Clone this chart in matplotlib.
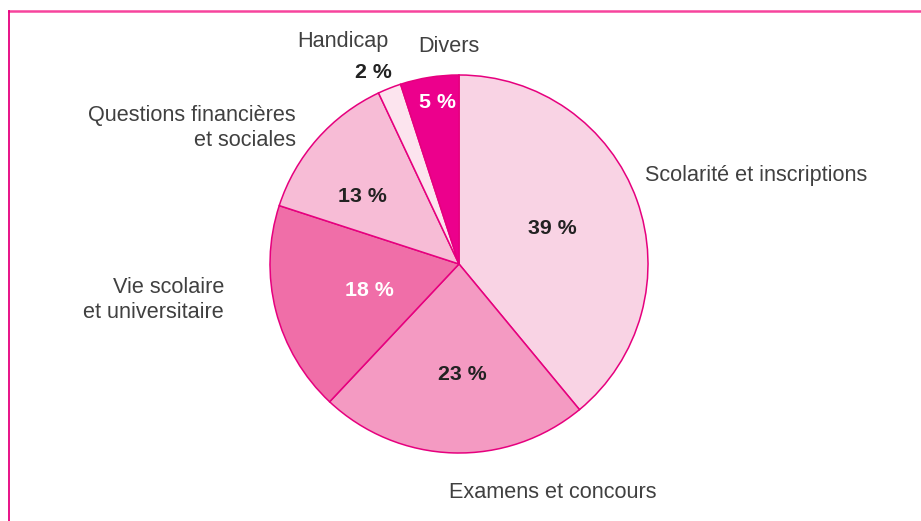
import matplotlib.pyplot as plt
from matplotlib.lines import Line2D

# Data: shares of requests, clockwise from the top
categories = ["Scolarité et inscriptions", "Examens et concours",
              "Vie scolaire\net universitaire", "Questions financières\net sociales",
              "Handicap", "Divers"]
shares = [39, 23, 18, 13, 2, 5]
colors = ["#F9D3E4", "#F49AC2", "#F06EA8", "#F7BCD6", "#FCE4EE", "#EC008C"]
pct_colors = ["#222222", "#222222", "white", "#222222", "#222222", "white"]

W, H = 921, 521
fig = plt.figure(figsize=(W / 100, H / 100), dpi=100)
ax = fig.add_axes([0, 0, 1, 1])

cx, cy, r = 459, H - 264, 189
wedges, _ = ax.pie(
    shares,
    colors=colors,
    startangle=90,
    counterclock=False,
    center=(cx, cy),
    radius=r,
    wedgeprops=dict(edgecolor="#E6007E", linewidth=1.1),
)
ax.set_xlim(0, W)
ax.set_ylim(0, H)
ax.set_aspect("equal")
ax.axis("off")

font = "Liberation Sans"
lab = dict(fontsize=15.6, color="#404040", family=font, linespacing=1.2)
pct = dict(fontsize=15.4, fontweight="bold", family=font, ha="center", va="center")

# percentage labels (pixel positions, y from top)
pct_pos = [(552, 228), (462, 374), (369, 291), (362, 196), (373, 72), (437, 102)]
for (x, y), v, c in zip(pct_pos, shares, pct_colors):
    ax.text(x, H - y, f"{v} %", color=c, **pct)

# category labels
ax.text(645, H - 175, categories[0], ha="left", va="center", **lab)
ax.text(553, H - 492, categories[1], ha="center", va="center", **lab)
ax.text(224, H - 300, categories[2], ha="right", va="center", multialignment="right", **lab)
ax.text(296, H - 128, categories[3], ha="right", va="center", multialignment="right", **lab)
ax.text(343, H - 42, categories[4], ha="center", va="center", **lab)
ax.text(449, H - 46, categories[5], ha="center", va="center", **lab)

# frame lines (top and left)
fig.add_artist(Line2D([9 / W, 1], [1 - 11 / H, 1 - 11 / H], color="#F7449D", linewidth=1.8))
fig.add_artist(Line2D([9 / W, 9 / W], [0, 1 - 11 / H], color="#E6007E", linewidth=1.3))

fig.savefig("out.png", dpi=100)
